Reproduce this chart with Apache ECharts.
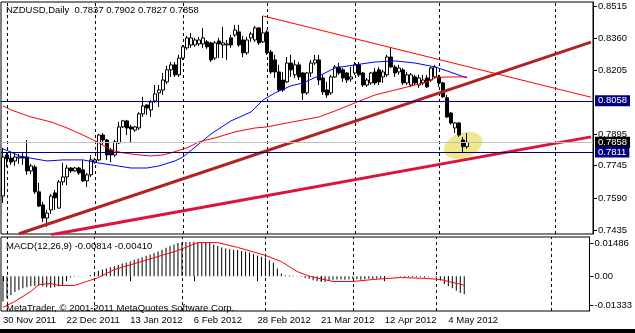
<!DOCTYPE html>
<html><head><meta charset="utf-8">
<script src="https://cdn.jsdelivr.net/npm/echarts@6/dist/echarts.min.js"></script>
<style>html,body{margin:0;padding:0;background:#fff}#c{width:635px;height:333px}</style>
</head><body><div id="c"></div>
<script>
const symbolName = 'NZDUSD,Daily';
const lastOHLC = ['0.7837', '0.7902', '0.7827', '0.7858'];
const macdTitle = 'MACD(12,26,9)';
const macdLastValues = ['-0.00814', '-0.00410'];
const copyright = 'MetaTrader, \u00A9 2001-2011 MetaQuotes Software Corp.';
const tickLabels = ['30 Nov 2011', '22 Dec 2011', '13 Jan 2012', '6 Feb 2012', '28 Feb 2012', '21 Mar 2012', '12 Apr 2012', '4 May 2012'];
const labelStep = 16;
const slotCount = 148;
const monthStarts = [1, 23, 45, 66, 88, 109, 138];
const priceTicks = [0.8515, 0.8360, 0.8205, 0.7895, 0.7745, 0.7590, 0.7435];
const macdTicks = [0.01486, 0.00, -0.01333];
const levelLines = [0.8058, 0.7811];
const bidPrice = 0.7858;
// [open, close, low, high]
const candles = [
[0.7599,0.7787,0.7566,0.7831],[0.7797,0.7778,0.7739,0.7811],[0.7782,0.7763,0.7749,0.7807],[0.7768,0.7787,0.7744,0.7811],
[0.7782,0.7787,0.7754,0.7802],[0.7787,0.7782,0.7749,0.7811],[0.7787,0.7720,0.7701,0.7869],[0.7720,0.7744,0.7705,0.7754],
[0.7739,0.7619,0.7609,0.7749],[0.7619,0.7551,0.7546,0.7662],[0.7556,0.7493,0.7474,0.7570],[0.7493,0.7517,0.7450,0.7532],
[0.7532,0.7599,0.7513,0.7609],[0.7614,0.7590,0.7532,0.7628],[0.7541,0.7667,0.7537,0.7676],[0.7667,0.7691,0.7652,0.7758],
[0.7691,0.7734,0.7652,0.7749],[0.7734,0.7720,0.7710,0.7739],[0.7720,0.7734,0.7715,0.7739],[0.7734,0.7710,0.7701,0.7739],
[0.7725,0.7672,0.7667,0.7773],[0.7672,0.7701,0.7643,0.7710],[0.7701,0.7773,0.7691,0.7797],[0.7763,0.7773,0.7754,0.7782],
[0.7773,0.7893,0.7768,0.7898],[0.7893,0.7869,0.7845,0.7903],[0.7869,0.7797,0.7773,0.7874],[0.7821,0.7797,0.7763,0.7831],
[0.7797,0.7860,0.7787,0.7869],[0.7855,0.7932,0.7850,0.7956],[0.7932,0.7961,0.7927,0.7966],[0.7961,0.7927,0.7893,0.7966],
[0.7932,0.7922,0.7855,0.7942],[0.7917,0.7932,0.7908,0.7937],[0.7927,0.7995,0.7917,0.8004],[0.7995,0.8033,0.7980,0.8077],
[0.8038,0.8023,0.7990,0.8040],[0.8014,0.8052,0.7980,0.8062],[0.8057,0.8091,0.8048,0.8134],[0.8096,0.8110,0.8028,0.8134],
[0.8110,0.8158,0.8086,0.8192],[0.8149,0.8207,0.8139,0.8226],[0.8207,0.8231,0.8173,0.8245],[0.8231,0.8183,0.8173,0.8245],
[0.8183,0.8264,0.8173,0.8279],[0.8264,0.8318,0.8255,0.8327],[0.8313,0.8361,0.8303,0.8371],[0.8327,0.8361,0.8313,0.8385],
[0.8327,0.8351,0.8318,0.8361],[0.8332,0.8351,0.8322,0.8366],[0.8332,0.8361,0.8313,0.8409],[0.8342,0.8318,0.8308,0.8351],
[0.8337,0.8255,0.8245,0.8342],[0.8264,0.8337,0.8255,0.8346],[0.8346,0.8332,0.8264,0.8361],[0.8327,0.8337,0.8264,0.8414],
[0.8327,0.8332,0.8255,0.8351],[0.8361,0.8327,0.8313,0.8375],[0.8375,0.8399,0.8366,0.8424],[0.8390,0.8327,0.8318,0.8424],
[0.8351,0.8289,0.8269,0.8371],[0.8289,0.8351,0.8279,0.8366],[0.8361,0.8380,0.8342,0.8390],[0.8351,0.8409,0.8342,0.8419],
[0.8409,0.8337,0.8327,0.8414],[0.8342,0.8385,0.8337,0.8467],[0.8390,0.8289,0.8279,0.8399],[0.8293,0.8197,0.8187,0.8303],
[0.8255,0.8197,0.8168,0.8279],[0.8197,0.8110,0.8101,0.8231],[0.8158,0.8110,0.8101,0.8197],[0.8149,0.8240,0.8144,0.8269],
[0.8240,0.8207,0.8173,0.8279],[0.8183,0.8231,0.8168,0.8255],[0.8231,0.8173,0.8158,0.8245],[0.8192,0.8096,0.8062,0.8197],
[0.8096,0.8192,0.8086,0.8197],[0.8192,0.8240,0.8173,0.8255],[0.8240,0.8255,0.8231,0.8279],[0.8255,0.8158,0.8134,0.8279],
[0.8168,0.8101,0.8086,0.8183],[0.8110,0.8086,0.8072,0.8149],[0.8096,0.8173,0.8086,0.8183],[0.8173,0.8221,0.8168,0.8231],
[0.8221,0.8192,0.8183,0.8240],[0.8207,0.8168,0.8149,0.8216],[0.8192,0.8158,0.8144,0.8197],[0.8163,0.8173,0.8149,0.8221],
[0.8192,0.8231,0.8183,0.8245],[0.8231,0.8183,0.8173,0.8245],[0.8192,0.8134,0.8125,0.8197],[0.8134,0.8158,0.8125,0.8168],
[0.8144,0.8192,0.8134,0.8197],[0.8197,0.8144,0.8134,0.8216],[0.8207,0.8149,0.8134,0.8221],[0.8173,0.8197,0.8144,0.8207],
[0.8183,0.8269,0.8173,0.8279],[0.8269,0.8221,0.8216,0.8318],[0.8221,0.8192,0.8173,0.8231],[0.8197,0.8216,0.8183,0.8231],
[0.8207,0.8144,0.8134,0.8216],[0.8144,0.8183,0.8134,0.8197],[0.8134,0.8183,0.8125,0.8192],[0.8173,0.8144,0.8134,0.8183],
[0.8134,0.8168,0.8120,0.8183],[0.8144,0.8158,0.8134,0.8183],[0.8168,0.8125,0.8120,0.8183],[0.8158,0.8216,0.8149,0.8221],
[0.8173,0.8221,0.8168,0.8231],[0.8173,0.8144,0.8125,0.8183],[0.8144,0.8077,0.8072,0.8149],[0.8072,0.7980,0.7975,0.8086],
[0.7999,0.7951,0.7942,0.8004],[0.7927,0.7951,0.7903,0.7956],[0.7951,0.7893,0.7884,0.7956],[0.7869,0.7837,0.7811,0.7884],
[0.7837,0.7858,0.7827,0.7902]
];
const maBlue = [[0,0.7826],[2,0.7811],[4,0.7792],[8,0.7778],[11,0.7768],[15,0.7773],[20,0.7773],[24,0.7758],[27,0.7749],[32,0.7734],[36,0.7734],[39,0.7744],[43,0.7768],[45,0.7787],[49,0.7850],[52,0.7898],[57,0.7961],[62,0.8004],[65,0.8062],[68,0.8096],[72,0.8130],[75,0.8144],[80,0.8187],[83,0.8216],[88,0.8231],[93,0.8245],[98,0.8250],[103,0.8240],[108,0.8221],[111,0.8202],[116,0.8168]];
const maRed = [[0,0.8033],[2,0.8014],[7,0.7980],[12,0.7956],[16,0.7927],[20,0.7893],[24,0.7855],[27,0.7821],[30,0.7807],[34,0.7797],[37,0.7792],[40,0.7797],[42,0.7807],[46,0.7831],[49,0.7860],[53,0.7879],[58,0.7908],[63,0.7927],[66,0.7932],[71,0.7951],[79,0.7980],[83,0.8009],[88,0.8048],[93,0.8086],[98,0.8110],[103,0.8134],[106,0.8149],[108,0.8168],[111,0.8173],[116,0.8173]];
const trendThinRed = [[65,0.8467],[147,0.8075]];
const trendBrown = [[4,0.7417],[147,0.8341]];
const trendCrimson = [[12,0.7412],[147,0.7884]];
const highlight = [[115,0.7843]];
const macdMain = [-0.0114,-0.0098,-0.0085,-0.0072,-0.0062,-0.0055,-0.0050,-0.0046,-0.0044,-0.0042,-0.0045,-0.0050,-0.0052,-0.0050,-0.0046,-0.0040,-0.0012,-0.0006,-0.0003,-0.0001,0.0000,0.0001,0.0005,0.0015,
0.0025,0.0030,0.0035,0.0040,0.0045,0.0051,0.0057,0.0062,0.0068,0.0074,0.0080,0.0086,0.0092,0.0098,0.0105,0.0112,0.0120,0.0128,0.0136,0.0143,0.0150,0.0153,
0.0155,0.0156,0.0156,0.0155,0.0155,0.0155,0.0150,0.0143,0.0136,0.0130,0.0125,0.0122,0.0120,0.0118,0.0114,0.0110,0.0106,0.0100,0.0094,0.0088,0.0083,0.0072,0.0061,0.0035,0.0012,
0.0004,0.0003,0.0002,0.0001,-0.0003,-0.0008,-0.0012,-0.0018,-0.0022,-0.0025,-0.0026,-0.0022,-0.0016,-0.0015,-0.0015,-0.0016,-0.0015,-0.0013,-0.0014,-0.0016,-0.0014,-0.0012,-0.0012,-0.0012,-0.0010,
-0.0002,0.0001,0.0000,-0.0001,-0.0003,-0.0004,-0.0004,-0.0005,-0.0005,-0.0004,-0.0006,-0.0003,0.0000,-0.0006,-0.0020,-0.0035,-0.0046,-0.0055,-0.0066,-0.0076,-0.00814];
const macdSignal = [[0,-0.0141],[3,-0.0114],[7,-0.0069],[9,-0.0038],[12,-0.0033],[14,-0.0042],[18,-0.0042],[21,-0.0024],[24,-0.0006],[28,0.0030],[34,0.0062],[39,0.0089],[44,0.0116],[49,0.0152],[54,0.0152],[59,0.0130],[66,0.0094],[70,0.0066],[74,0.0021],[77,0.0000],[83,-0.0024],[88,-0.0024],[93,-0.0015],[100,-0.0006],[106,-0.0010],[110,-0.0015],[113,-0.0028],[116,-0.0041]];

const FONT = 'Liberation Sans, Arial, sans-serif';
const FS = 9.5;
const cats = [];
for (let i = 0; i < slotCount; i++) cats.push(String(i));
const nBars = candles.length;
const showTick = (idx) => idx % labelStep === 0 && idx < nBars;

const sepLine = () => ({
  silent: true, symbol: ['none', 'none'], z: 1,
  label: { show: false },
  lineStyle: { color: '#000', width: 1, type: [3, 3] },
  emphasis: { disabled: true },
  data: monthStarts.map(i => ({ xAxis: i }))
});
const boxLabel = (bg) => ({
  show: true, position: 'end', distance: 2,
  formatter: p => Number(p.value).toFixed(4),
  backgroundColor: bg, color: '#fff', padding: [1, 3, 0, 3],
  fontFamily: FONT, fontSize: FS
});

const chart = echarts.init(document.getElementById('c'), null, { renderer: 'canvas' });
chart.setOption({
  animation: false,
  backgroundColor: '#fff',
  title: [
    { text: symbolName + '  ' + lastOHLC.join(' '), left: 6, top: 5, padding: 0,
      textStyle: { fontFamily: FONT, fontSize: FS, fontWeight: 'normal', color: '#000' } },
    { text: macdTitle + ' ' + macdLastValues.join(' '), left: 6, top: 241, padding: 0,
      textStyle: { fontFamily: FONT, fontSize: FS, fontWeight: 'normal', color: '#000' } },
    { text: copyright, left: 6, top: 303, padding: 0,
      textStyle: { fontFamily: FONT, fontSize: FS, fontWeight: 'normal', color: '#000' } }
  ],
  grid: [
    { left: 1, right: 42, top: 2, height: 232, show: true, borderColor: '#000', borderWidth: 1, backgroundColor: 'transparent' },
    { left: 1, right: 42, top: 237, height: 74, show: true, borderColor: '#000', borderWidth: 1, backgroundColor: 'transparent' }
  ],
  xAxis: [
    { type: 'category', gridIndex: 0, data: cats, boundaryGap: true,
      axisLine: { show: false }, axisTick: { show: false }, axisLabel: { show: false }, splitLine: { show: false } },
    { type: 'category', gridIndex: 1, data: cats, boundaryGap: true,
      axisLine: { show: false },
      axisTick: { show: true, alignWithLabel: true, interval: showTick, length: 5, lineStyle: { color: '#000' } },
      axisLabel: { show: true, interval: showTick, align: 'left', margin: 4, color: '#000',
        fontFamily: FONT, fontSize: FS, formatter: (v, idx) => tickLabels[idx / labelStep] || '' },
      splitLine: { show: false } }
  ],
  yAxis: [
    { type: 'value', gridIndex: 0, position: 'right', min: 0.7416, max: 0.8534, scale: true,
      axisLine: { show: true, lineStyle: { color: '#000' } },
      axisTick: { show: true, customValues: priceTicks, length: 4, lineStyle: { color: '#000' } },
      axisLabel: { show: true, customValues: priceTicks, margin: 5, color: '#000', fontFamily: FONT, fontSize: FS,
        formatter: v => v.toFixed(4) },
      splitLine: { show: false } },
    { type: 'value', gridIndex: 1, position: 'right', min: -0.01573, max: 0.01771, scale: true,
      axisLine: { show: true, lineStyle: { color: '#000' } },
      axisTick: { show: true, customValues: macdTicks, length: 4, lineStyle: { color: '#000' } },
      axisLabel: { show: true, customValues: macdTicks, margin: 5, color: '#000', fontFamily: FONT, fontSize: FS,
        formatter: v => v === 0 ? '0.00' : v.toFixed(5) },
      splitLine: { show: false } }
  ],
  series: [
    { type: 'scatter', xAxisIndex: 0, yAxisIndex: 0, data: highlight, symbol: 'circle',
      symbolSize: [40, 25], symbolRotate: 20, itemStyle: { color: '#F0E68C', opacity: 1 }, z: 1, silent: true },
    { type: 'candlestick', xAxisIndex: 0, yAxisIndex: 0, data: candles, barWidth: 3, z: 3,
      itemStyle: { color: '#fff', color0: '#000', borderColor: '#000', borderColor0: '#000', borderWidth: 1 },
      markLine: sepLine() },
    { type: 'line', xAxisIndex: 0, yAxisIndex: 0, data: maBlue, showSymbol: false, smooth: false, z: 4,
      lineStyle: { color: '#0000FF', width: 1 } },
    { type: 'line', xAxisIndex: 0, yAxisIndex: 0, data: maRed, showSymbol: false, z: 4,
      lineStyle: { color: '#FF0000', width: 1 } },
    { type: 'line', xAxisIndex: 0, yAxisIndex: 0, data: trendThinRed, showSymbol: false, z: 5,
      lineStyle: { color: '#FF0000', width: 1 } },
    { type: 'line', xAxisIndex: 0, yAxisIndex: 0, data: trendBrown, showSymbol: false, z: 5, clip: true,
      lineStyle: { color: '#B22222', width: 3 } },
    { type: 'line', xAxisIndex: 0, yAxisIndex: 0, data: trendCrimson, showSymbol: false, z: 5, clip: true,
      lineStyle: { color: '#DC143C', width: 3 } },
    { type: 'line', xAxisIndex: 0, yAxisIndex: 0, data: [], z: 6,
      markLine: { silent: true, symbol: ['none', 'none'], z: 6, precision: 5, emphasis: { disabled: true },
        data: [
          { yAxis: bidPrice, lineStyle: { color: '#C0C0C0', width: 1, type: 'solid' }, label: boxLabel('#000') },
          { yAxis: levelLines[0], lineStyle: { color: '#000080', width: 1, type: 'solid' }, label: boxLabel('#000080') },
          { yAxis: levelLines[1], lineStyle: { color: '#000080', width: 1, type: 'solid' }, label: boxLabel('#000080') }
        ] } },
    { type: 'bar', xAxisIndex: 1, yAxisIndex: 1, data: macdMain, barWidth: 1, z: 3,
      itemStyle: { color: '#000' }, markLine: sepLine() },
    { type: 'line', xAxisIndex: 1, yAxisIndex: 1, data: macdSignal, showSymbol: false, z: 4,
      lineStyle: { color: '#FF0000', width: 1 } }
  ],
  graphic: [
    { type: 'rect', left: 0, top: 329, shape: { width: 635, height: 4 }, style: { fill: '#000' }, z: 100 }
  ]
});
</script></body></html>
